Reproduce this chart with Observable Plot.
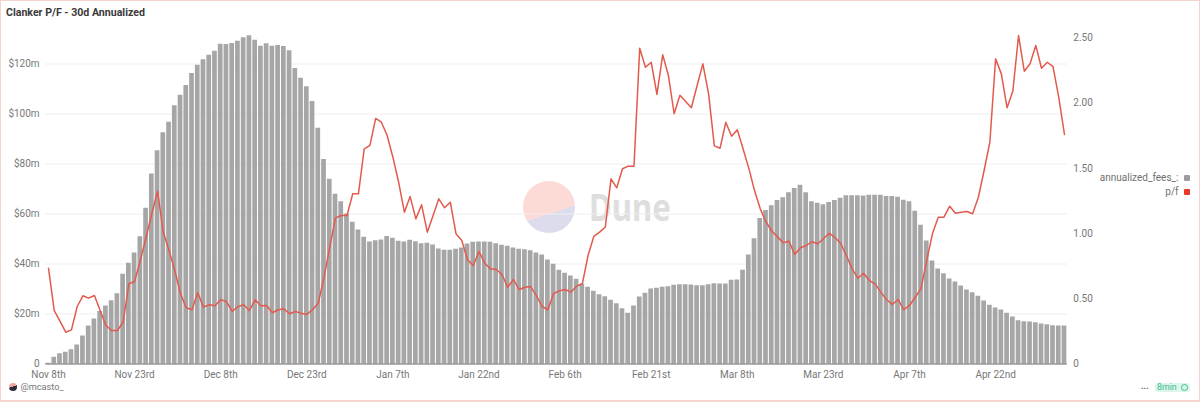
<!DOCTYPE html>
<html>
<head>
<meta charset="utf-8">
<script src="https://cdn.jsdelivr.net/npm/d3@7"></script>
<script src="https://cdn.jsdelivr.net/npm/@observablehq/plot@0.6"></script>
<style>
  html, body { margin: 0; padding: 0; background: #fff; }
  #frame { position: relative; width: 1200px; height: 402px; overflow: hidden; font-family: Roboto, "Noto Sans", sans-serif; box-sizing: border-box; }
  #border { position: absolute; inset: 0; border: 1px solid #f6d3cd; border-width: 1px 1px 2px 1.5px; box-sizing: border-box; pointer-events: none; }
  #chart { position: absolute; left: 0; top: 0; }
  #chart svg { background: transparent; display: block; }
  #title { position: absolute; left: 6px; top: 6px; font-size: 10.6px; font-weight: 700; color: #3a3a3a; white-space: nowrap; }
  #wm-circle { position: absolute; left: 523.4px; top: 181px; width: 52px; height: 52px; border-radius: 50%;
    background: linear-gradient(162deg, #fcdad6 39.4px, #dcdcec 39.4px); }
  #wm-text { position: absolute; left: 589px; top: 181px; font-size: 37px; line-height: 52px; font-weight: 700; color: #dedede; font-family: "Noto Sans", sans-serif; transform: scaleX(0.84); transform-origin: left center; }
  .legend { position: absolute; right: 21.5px; font-size: 10px; color: #6f6f6f; white-space: nowrap; line-height: 12px; }
  .swatch { position: absolute; left: 1184px; width: 6px; height: 6px; border-radius: 1px; }
  #credit { position: absolute; left: 20.5px; top: 380px; font-size: 9.2px; line-height: 14px; color: #777; }
  #logo { position: absolute; left: 9px; top: 383px; width: 8px; height: 8px; border-radius: 50%; background: linear-gradient(160deg, #f3a79c 45%, #2b2b3a 45%); }
  #dots { position: absolute; left: 1141px; top: 379px; font-size: 9px; line-height: 14px; color: #666; font-weight: 700; }
  #badge { position: absolute; left: 1155px; top: 382.5px; width: 35px; height: 9.5px; background: #dcf6ea; border-radius: 3px; color: #3dbb8c; font-size: 8.8px; line-height: 9.5px; padding-left: 2px; box-sizing: border-box; }
  #check { position: absolute; right: 2px; top: 1.2px; width: 7px; height: 7px; border: 1px solid #3dbb8c; border-radius: 50%; box-sizing: border-box; }
</style>
</head>
<body>
<div id="frame">
  <div id="wm-circle"></div>
  <div id="wm-text">Dune</div>
  <div id="chart"></div>
  <div id="title">Clanker P/F - 30d Annualized</div>
  <div class="legend" style="top:172px">annualized_fees_:</div>
  <div class="swatch" style="top:175px;background:#9c9c9c"></div>
  <div class="legend" style="top:186px">p/f</div>
  <div class="swatch" style="top:189px;background:#e8392c"></div>
  <div id="logo"></div>
  <div id="credit">@mcasto_</div>
  <div id="dots">...</div>
  <div id="badge">8min<span id="check"></span></div>
  <div id="border"></div>
</div>
<script>
const fees = [
  0.3, 2.7, 4.1, 4.7, 5.7, 7.6, 11.2, 15.2, 18, 21, 23.2, 25.3, 28.1, 35.9, 40.3,
  44.4, 50.9, 62.3, 76, 85.3, 92.5, 96.7, 103.3, 107.5, 111.4, 116.2, 119.5, 121.7, 123.5, 125.1,
  127.9, 127.8, 128.2, 129.1, 130.5, 131.3, 129.5, 127.1, 128.1, 127.1, 127.4, 127, 125.3, 118.2, 114.3,
  110.9, 105, 94.3, 81.8, 73.9, 67.9, 64.9, 60, 56.7, 53.6, 50.7, 48.8, 49.3, 49.6, 51,
  50.3, 49.1, 48.8, 49.5, 48.9, 48.1, 48.3, 47.6, 46, 45.5, 45.5, 45.9, 46.4, 48, 48.7,
  48.8, 48.8, 48.7, 48.1, 47.5, 47.1, 46.4, 45.9, 45.7, 45.3, 44.4, 43.6, 41.6, 39.9, 37.5,
  36.3, 35.2, 33.9, 31.9, 30.7, 29.1, 27.7, 26.9, 25.5, 24.1, 22.1, 20.3, 23.2, 26.8, 28.3,
  30, 30.3, 30.7, 30.9, 31.5, 31.7, 31.7, 31.6, 31.3, 31.3, 31.7, 32.1, 32, 32, 33.5,
  33.6, 37.5, 43.6, 50.1, 58.2, 61.4, 63.3, 65.4, 66.5, 68.5, 70.2, 71.5, 68.5, 64.9, 64.3,
  63.7, 64.6, 65.4, 66.3, 67.3, 67.3, 67.3, 67.2, 67.5, 67.5, 67.5, 67, 67, 66.7, 65.5,
  64.9, 61.1, 55.5, 49.2, 41.2, 38, 36.1, 34, 32.8, 31.2, 29.6, 28.5, 27.1, 25.2, 23.5,
  22.4, 21.6, 20.3, 18.8, 17.3, 16.9, 16.8, 16.5, 16, 15.7, 15.3, 15.2, 15.2
];
const pf = [
  0.735, 0.41, 0.328, 0.244, 0.262, 0.441, 0.523, 0.505, 0.525, 0.41, 0.295, 0.257, 0.257, 0.32, 0.615,
  0.633, 0.794, 0.972, 1.152, 1.325, 1.01, 0.87, 0.717, 0.538, 0.431, 0.416, 0.546, 0.436, 0.454, 0.446,
  0.492, 0.479, 0.403, 0.439, 0.454, 0.41, 0.492, 0.446, 0.449, 0.393, 0.416, 0.423, 0.385, 0.403, 0.39,
  0.38, 0.416, 0.466, 0.666, 0.896, 1.121, 1.139, 1.139, 1.305, 1.305, 1.65, 1.676, 1.883, 1.854, 1.752,
  1.586, 1.394, 1.164, 1.284, 1.113, 1.221, 1.011, 1.139, 1.267, 1.198, 1.241, 0.998, 0.947, 0.799, 0.755,
  0.863, 0.773, 0.73, 0.725, 0.686, 0.589, 0.648, 0.571, 0.589, 0.594, 0.525, 0.441, 0.416, 0.541, 0.561,
  0.571, 0.551, 0.597, 0.615, 0.832, 0.978, 1.011, 1.049, 1.42, 1.351, 1.497, 1.517, 1.517, 2.422, 2.276,
  2.314, 2.067, 2.371, 2.212, 1.919, 2.061, 2.013, 1.965, 2.136, 2.302, 2.072, 1.673, 1.655, 1.854, 1.747,
  1.796, 1.65, 1.502, 1.33, 1.19, 1.09, 1.02, 0.975, 0.93, 0.942, 0.84, 0.891, 0.909, 0.937, 0.922,
  0.96, 1.003, 0.97, 0.926, 0.832, 0.73, 0.658, 0.696, 0.64, 0.615, 0.551, 0.495, 0.456, 0.495, 0.416,
  0.449, 0.512, 0.577, 0.794, 0.998, 1.126, 1.126, 1.21, 1.156, 1.164, 1.169, 1.152, 1.279, 1.484, 1.701,
  2.34, 2.225, 1.965, 2.092, 2.519, 2.245, 2.302, 2.443, 2.268, 2.314, 2.281, 2.046, 1.76
];
const tickLabels = ["Nov 8th", "Nov 23rd", "Dec 8th", "Dec 23rd", "Jan 7th", "Jan 22nd", "Feb 6th", "Feb 21st", "Mar 8th", "Mar 23rd", "Apr 7th", "Apr 22nd"];
const tickEvery = 15;
const feeTicks = [0, 20, 40, 60, 80, 100, 120];
const ratioTicks = [0, 0.5, 1, 1.5, 2, 2.5];
const ratioScale = 52.16; // $m on the left axis per 1.0 of p/f on the right axis

const days = fees.map((_, i) => i);
const tickDays = tickLabels.map((_, i) => i * tickEvery);

const plot = Plot.plot({
  width: 1200,
  height: 402,
  marginLeft: 45.13,
  marginRight: 133.15,
  marginTop: 13.5,
  marginBottom: 38.5,
  style: { background: "transparent", fontFamily: 'Roboto, "Noto Sans", sans-serif', fontSize: "10px" },
  x: { type: "band", domain: days, paddingInner: 0.18, paddingOuter: 0.09 },
  y: { domain: [0, 140], label: null },
  marks: [
    Plot.gridY(feeTicks.filter(d => d > 0), { stroke: "#eeeeee", strokeOpacity: 1 }),
    Plot.barY(days, { x: d => d, y: d => fees[d], fill: "#a6a6a6" }),
    Plot.ruleY([0], { stroke: "#666666", strokeWidth: 1 }),
    Plot.lineY(days, { x: d => d, y: d => pf[d] * ratioScale, stroke: "#e25a4e", strokeWidth: 1.5, curve: "linear" }),
    Plot.axisX({
      ticks: tickDays, tickSize: 0, tickPadding: 7, label: null, color: "#777777",
      tickFormat: d => tickLabels[d / tickEvery]
    }),
    Plot.axisY({
      anchor: "left", ticks: feeTicks, tickSize: 0, tickPadding: 6, label: null, color: "#777777",
      tickFormat: d => d === 0 ? "0" : `$${d}m`
    }),
    Plot.axisY({
      anchor: "right", ticks: ratioTicks.map(v => v * ratioScale), tickSize: 0, tickPadding: 6, label: null, color: "#777777",
      tickFormat: d => { const v = d / ratioScale; return v === 0 ? "0" : v.toFixed(2); }
    })
  ]
});
document.getElementById("chart").append(plot);
</script>
</body>
</html>
